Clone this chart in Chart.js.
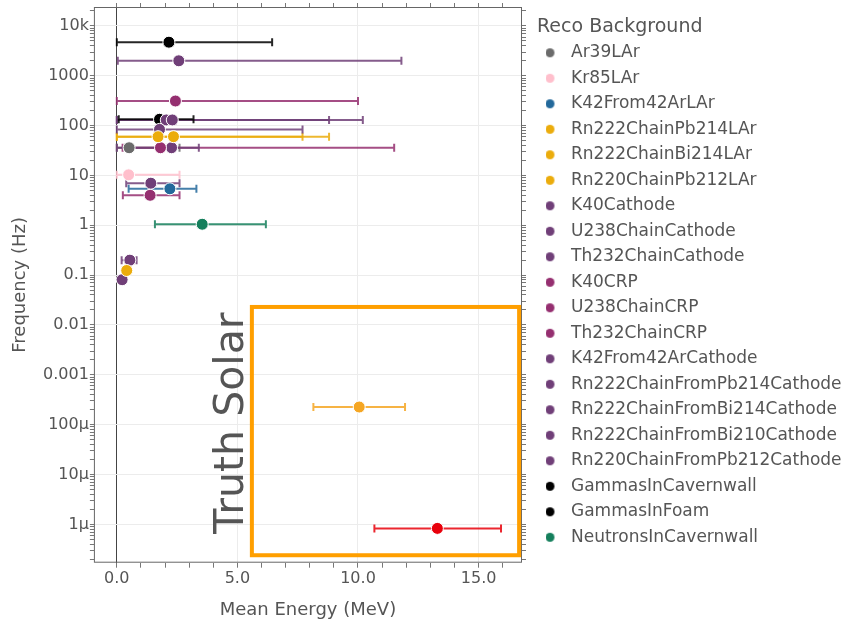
<!DOCTYPE html>
<html>
<head>
<meta charset="utf-8">
<script src="https://cdn.jsdelivr.net/npm/chart.js@4.4.1/dist/chart.umd.min.js"></script>
<style>
  html, body { margin: 0; padding: 0; background: #fff; }
  #wrap { width: 848px; height: 623px; }
</style>
</head>
<body>
<div id="wrap"><canvas id="recoChart"></canvas></div>
<script>
// Reco backgrounds: mean energy (MeV), rate (Hz), error bar ends (MeV)
const names = [
  'Ar39LAr', 'Kr85LAr', 'K42From42ArLAr',
  'Rn222ChainPb214LAr', 'Rn222ChainBi214LAr', 'Rn220ChainPb212LAr',
  'K40Cathode', 'U238ChainCathode', 'Th232ChainCathode',
  'K40CRP', 'U238ChainCRP', 'Th232ChainCRP',
  'K42From42ArCathode', 'Rn222ChainFromPb214Cathode', 'Rn222ChainFromBi214Cathode',
  'Rn222ChainFromBi210Cathode', 'Rn220ChainFromPb212Cathode',
  'GammasInCavernwall', 'GammasInFoam', 'NeutronsInCavernwall'
];
const energies = [0.51, 0.49, 2.20, 1.71, 2.35, 0.41, 1.41, 2.57, 2.30, 1.38, 2.43, 1.81, 2.27, 1.77, 2.05, 0.22, 0.54, 2.16, 1.77, 3.54];
const freqs    = [36, 10.3, 5.4, 60, 60, 0.124, 7.0, 2000, 130, 4.0, 312, 36, 36, 84, 130, 0.081, 0.2, 4720, 134, 1.05];
const energyLow  = [0.0, 0.0, 0.49, 0.0, 0.0, 0.35, 0.39, 0.04, 0.0, 0.25, 0.0, 0.24, 0.0, 0.0, 0.0, 0.15, 0.2, 0.0, 0.08, 1.58];
const energyHigh = [2.6, 2.6, 3.3, 7.7, 8.8, 0.47, 2.6, 11.8, 10.2, 2.6, 10.0, 11.5, 3.4, 7.7, 8.8, 0.3, 0.82, 6.44, 3.18, 6.18];

// Truth solar points (inside the orange box)
const solarNames = ['Truth Solar A', 'Truth Solar B'];
const solarEnergies = [10.05, 13.29];
const solarFreqs = [2.26e-4, 8.3e-7];
const solarLow = [8.15, 10.68];
const solarHigh = [11.95, 15.93];

// axis ticks
const xTickValues = [0, 5, 10, 15];
const xTickLabels = ['0.0', '5.0', '10.0', '15.0'];
const yTickValues = [1e-6, 1e-5, 1e-4, 1e-3, 1e-2, 1e-1, 1, 10, 100, 1000, 10000];
const yTickLabels = ['1μ', '10μ', '100μ', '0.001', '0.01', '0.1', '1', '10', '100', '1000', '10k'];

const GRAY = '#6b6b6b', PINK = '#ffbfcc', BLUE = '#23699b', YELLOW = '#ebac0c',
      PURPLE = '#703f78', MAGENTA = '#952f70', BLACK = '#000000', GREEN = '#157f5c';
const colors = [GRAY, PINK, BLUE, YELLOW, YELLOW, YELLOW, PURPLE, PURPLE, PURPLE,
  MAGENTA, MAGENTA, MAGENTA, PURPLE, PURPLE, PURPLE, PURPLE, PURPLE, BLACK, BLACK, GREEN];
const solarColors = ['#f5a623', '#e8000b'];

const FONT = '"DejaVu Sans", Verdana, sans-serif';
const TEXT = '#555555';

function makeSet(label, e, f, lo, hi, color) {
  return {
    label: label,
    data: [{ x: e, y: f, xMin: lo, xMax: hi }],
    backgroundColor: color,
    borderColor: '#ffffff',
    borderWidth: 1,
    pointRadius: 6,
    pointHoverRadius: 6,
    barColor: color
  };
}

const datasets = [];
names.forEach((n, i) => datasets.push(makeSet(n, energies[i], freqs[i], energyLow[i], energyHigh[i], colors[i])));
solarNames.forEach((n, i) => datasets.push(makeSet(n, solarEnergies[i], solarFreqs[i], solarLow[i], solarHigh[i], solarColors[i])));

// small legend marker: dot sitting at the left of its box
function legendDot(color) {
  const c = document.createElement('canvas');
  c.width = 17; c.height = 11;
  const g = c.getContext('2d');
  g.fillStyle = color;
  g.beginPath();
  g.arc(4.5, 5.5, 4.5, 0, Math.PI * 2);
  g.fill();
  return c;
}

// horizontal error bars with caps
const errorBars = {
  id: 'errorBars',
  beforeDatasetsDraw(chart) {
    const { ctx, scales: { x, y } } = chart;
    ctx.save();
    ctx.lineWidth = 2;
    chart.data.datasets.forEach(ds => {
      const p = ds.data[0];
      const py = y.getPixelForValue(p.y);
      const x0 = x.getPixelForValue(p.xMin);
      const x1 = x.getPixelForValue(p.xMax);
      ctx.strokeStyle = ds.barColor;
      ctx.globalAlpha = 0.85;
      ctx.beginPath();
      ctx.moveTo(x0, py); ctx.lineTo(x1, py);
      ctx.moveTo(x0, py - 4); ctx.lineTo(x0, py + 4);
      ctx.moveTo(x1, py - 4); ctx.lineTo(x1, py + 4);
      ctx.stroke();
    });
    ctx.restore();
  }
};

// frame, solar box and its label
const decorations = {
  id: 'decorations',
  afterDatasetsDraw(chart) {
    const { ctx, chartArea: a, scales: { x, y } } = chart;
    ctx.save();
    ctx.strokeStyle = '#666';
    ctx.lineWidth = 1;
    ctx.strokeRect(a.left + 0.5, a.top + 0.5, a.right - a.left - 1, a.bottom - a.top - 1);

    const bl = x.getPixelForValue(5.6), br = x.getPixelForValue(16.68);
    const bt = y.getPixelForValue(0.023), bb = y.getPixelForValue(2.4e-7);
    ctx.strokeStyle = '#ff9f00';
    ctx.lineWidth = 4;
    ctx.strokeRect(bl, bt, br - bl, bb - bt);

    ctx.translate(bl - 20, (bt + bb) / 2 - 8);
    ctx.rotate(-Math.PI / 2);
    ctx.fillStyle = TEXT;
    ctx.font = '41px ' + FONT;
    ctx.textAlign = 'center';
    ctx.textBaseline = 'middle';
    ctx.fillText('Truth Solar', 0, 0);
    ctx.restore();
  }
};

// minor ticks every MeV, every 1..9 per decade
function linTicks(scale) {
  const ticks = [];
  for (let v = 0; v <= 16; v++) ticks.push({ value: v });
  scale.ticks = ticks;
}
function logTicks(scale) {
  const ticks = [];
  for (let e = -7; e <= 4; e++) {
    for (let m = 1; m <= 9; m++) {
      const v = m * Math.pow(10, e);
      if (v >= scale.min && v <= scale.max) ticks.push({ value: v, major: m === 1 });
    }
  }
  scale.ticks = ticks;
}
function noEdgePadding(scale) {
  scale.paddingTop = 0; scale.paddingBottom = 0;
  scale.paddingLeft = 0; scale.paddingRight = 0;
}

function lookup(values, labels, v) {
  const i = values.findIndex(t => Math.abs(t - v) <= Math.abs(t) * 1e-6 + 1e-9);
  return i >= 0 ? labels[i] : '';
}
const xLabel = v => lookup(xTickValues, xTickLabels, v);
const yLabel = v => lookup(yTickValues, yTickLabels, v);

const ctx = document.getElementById('recoChart').getContext('2d');
const recoChart = new Chart(ctx, {
  type: 'scatter',
  data: { datasets: datasets },
  plugins: [errorBars, decorations],
  options: {
    responsive: true,
    maintainAspectRatio: false,
    animation: false,
    layout: { padding: { left: 9.5, right: 0, top: -1, bottom: 2 } },
    plugins: {
      tooltip: { enabled: false },
      legend: {
        position: 'right',
        align: 'start',
        maxWidth: 311,
        title: {
          display: true,
          text: 'Reco Background',
          position: 'start',
          color: TEXT,
          font: { family: FONT, size: 19 },
          padding: { top: 19, bottom: -5 }
        },
        labels: {
          filter: (item) => item.datasetIndex < names.length,
          generateLabels: (chart) => {
            const items = Chart.defaults.plugins.legend.labels.generateLabels(chart);
            items.forEach(it => { it.pointStyle = legendDot(chart.data.datasets[it.datasetIndex].backgroundColor); });
            return items;
          },
          usePointStyle: true,
          boxWidth: 17,
          boxHeight: 11,
          padding: 8.5,
          color: TEXT,
          font: { family: FONT, size: 17 }
        }
      }
    },
    scales: {
      x: {
        type: 'linear',
        position: 'bottom',
        min: -0.95,
        max: 16.8,
        border: { display: false },
        afterBuildTicks: linTicks,
        afterFit: noEdgePadding,
        title: { display: true, text: 'Mean Energy (MeV)', color: TEXT, font: { family: FONT, size: 18 }, padding: { top: 9.5, bottom: 0 } },
        ticks: {
          autoSkip: false,
          maxRotation: 0,
          color: TEXT,
          font: { family: FONT, size: 16 },
          padding: 1.5,
          callback: v => xLabel(v)
        },
        grid: {
          color: c => {
            const v = c.tick ? c.tick.value : NaN;
            if (v === 0) return '#444';
            return xLabel(v) !== '' ? '#ececec' : 'transparent';
          },
          tickColor: '#777',
          tickLength: 5
        }
      },
      x2: {
        type: 'linear',
        position: 'top',
        min: -0.95,
        max: 16.8,
        border: { display: false },
        afterBuildTicks: linTicks,
        afterFit: noEdgePadding,
        ticks: { display: false, autoSkip: false },
        grid: { drawOnChartArea: false, tickColor: '#777', tickLength: 4 }
      },
      y: {
        type: 'logarithmic',
        min: 1.7e-7,
        max: 2.4e4,
        border: { display: false },
        afterBuildTicks: logTicks,
        afterFit: noEdgePadding,
        title: { display: true, text: 'Frequency (Hz)', color: TEXT, font: { family: FONT, size: 18 }, padding: { top: 0, bottom: 11 } },
        ticks: {
          autoSkip: false,
          color: TEXT,
          font: { family: FONT, size: 16 },
          padding: 1,
          callback: v => yLabel(v)
        },
        grid: {
          color: c => (c.tick && yLabel(c.tick.value) !== '') ? '#ececec' : 'transparent',
          tickColor: '#777',
          tickLength: 4
        }
      },
      y2: {
        type: 'logarithmic',
        position: 'right',
        min: 1.7e-7,
        max: 2.4e4,
        border: { display: false },
        afterBuildTicks: logTicks,
        afterFit: noEdgePadding,
        title: { display: true, text: '', font: { size: 1, lineHeight: 1 }, padding: { top: 0, bottom: 10 } },
        ticks: { display: false, autoSkip: false },
        grid: { drawOnChartArea: false, tickColor: '#777', tickLength: 4 }
      }
    }
  }
});
</script>
</body>
</html>
